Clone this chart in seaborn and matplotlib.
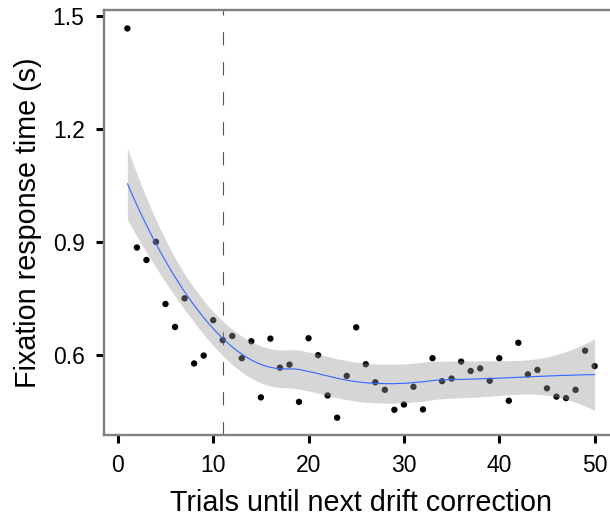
import numpy as np
import pandas as pd
import matplotlib
matplotlib.use("Agg")
import matplotlib.pyplot as plt
import seaborn as sns

# ---- data ----
trials = list(range(1, 51))
fix_rt = [1.467, 0.885, 0.852, 0.900, 0.735, 0.674, 0.750, 0.577, 0.598, 0.692,
          0.639, 0.650, 0.591, 0.636, 0.487, 0.643, 0.566, 0.574, 0.475, 0.644,
          0.599, 0.492, 0.433, 0.544, 0.673, 0.575, 0.527, 0.507, 0.454, 0.468,
          0.515, 0.455, 0.591, 0.530, 0.537, 0.582, 0.557, 0.564, 0.531, 0.591,
          0.478, 0.632, 0.548, 0.560, 0.511, 0.489, 0.485, 0.507, 0.611, 0.570]
drift_line = 11
x_ticks = [0, 10, 20, 30, 40, 50]
y_ticks = [0.6, 0.9, 1.2, 1.5]
x_label = "Trials until next drift correction"
y_label = "Fixation response time (s)"

df = pd.DataFrame({"trial": trials, "rt": fix_rt})


# ---- loess smoother (local quadratic, tricube, span 0.75) ----
def loess_rows(x, x0s, span=0.75, degree=2):
    x = np.asarray(x, float)
    n = len(x)
    q = int(np.floor(n * span))
    rows = []
    for x0 in x0s:
        d = np.abs(x - x0)
        h = np.sort(d)[q - 1]
        u = np.clip(d / h, 0, 1)
        w = (1 - u ** 3) ** 3
        X = np.vander(x - x0, degree + 1, increasing=True)
        W = np.diag(w)
        A = X.T @ W @ X
        row = np.linalg.solve(A, X.T @ W)[0]
        rows.append(row)
    return np.array(rows)


x = df["trial"].to_numpy(float)
y = df["rt"].to_numpy(float)
L = loess_rows(x, x)
R = np.eye(len(x)) - L
M = R.T @ R
one_delta = np.trace(M)
sigma = np.sqrt(np.sum((R @ y) ** 2) / one_delta)
xs = np.linspace(x.min(), x.max(), 80)
Ls = loess_rows(x, xs)
fit = Ls @ y
se = sigma * np.sqrt(np.sum(Ls ** 2, axis=1))
tq = 2.015
smooth = pd.DataFrame({"trial": xs, "fit": fit, "lo": fit - tq * se, "hi": fit + tq * se})

# ---- figure ----
sns.set_theme(style="white")
plt.rcParams["font.family"] = ["Liberation Sans", "DejaVu Sans"]

fig = plt.figure(figsize=(6.10, 5.17), dpi=100)
ax = fig.add_axes([104 / 610, (517 - 435) / 517, (618 - 104) / 610, 425 / 517])

sns.scatterplot(data=df, x="trial", y="rt", ax=ax, color="black", s=21,
                edgecolor="none", linewidth=0, zorder=2)
ax.fill_between(smooth["trial"], smooth["lo"], smooth["hi"], color="#999999",
                alpha=0.4, linewidth=0, zorder=3)
sns.lineplot(data=smooth, x="trial", y="fit", ax=ax, color="#3366FF",
             linewidth=0.8, zorder=4)
ax.axvline(drift_line, color="#555555", linewidth=0.8,
           linestyle=(0, (12, 15)), zorder=1)

ax.set_xlim(-1.45, 52.45)
ax.set_ylim(0.387, 1.516)
ax.set_xticks(x_ticks)
ax.set_yticks(y_ticks)
ax.set_yticklabels([f"{v:.1f}" for v in y_ticks])
ax.set_xlabel(x_label, fontsize=20.7, color="black", labelpad=8)
ax.set_ylabel(y_label, fontsize=20.7, color="black", labelpad=8)
ax.tick_params(axis="both", which="major", labelsize=16.5, length=6, width=2.2,
               color="black", labelcolor="black", pad=8, bottom=True, left=True)

for side in ["left", "top", "bottom"]:
    ax.spines[side].set_visible(True)
    ax.spines[side].set_color("#808080")
    ax.spines[side].set_linewidth(1.7)
ax.spines["right"].set_visible(False)
ax.grid(False)

fig.savefig("out.png", dpi=100)
